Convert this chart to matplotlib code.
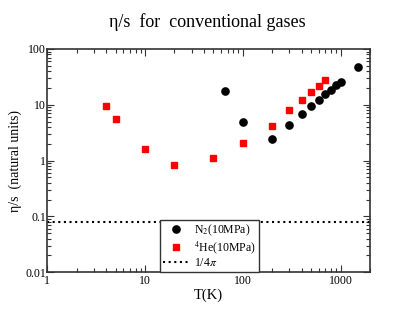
import numpy as np
import matplotlib
matplotlib.use("Agg")
import matplotlib.pyplot as plt
from matplotlib.ticker import LogLocator, FixedLocator, FixedFormatter, NullFormatter

plt.rcParams['font.family'] = ['Liberation Serif', 'DejaVu Serif']
plt.rcParams['mathtext.fontset'] = 'stix'

# Data
he_T = [4, 5, 10, 20, 50, 100, 200, 300, 400, 500, 600, 700]
he_eta_s = [9.4, 5.6, 1.6, 0.83, 1.11, 2.1, 4.1, 8.1, 12.0, 16.7, 22.0, 27.5]
n2_T = [65, 100, 200, 300, 400, 500, 600, 700, 800, 900, 1000, 1500]
n2_eta_s = [17.5, 5.0, 2.4, 4.4, 6.8, 9.4, 12.2, 15.4, 18.7, 22.4, 25.6, 47.0]
kss_bound = 1.0 / (4.0 * np.pi)

xticks = [1, 10, 100, 1000]
xticklabels = ["1", "10", "100", "1000"]
yticks = [0.01, 0.1, 1, 10, 100]
yticklabels = ["0.01", "0.1", "1", "10", "100"]

fig = plt.figure(figsize=(4.15, 3.21), dpi=100)
ax = fig.add_axes([0.114, 0.1517, 0.7776, 0.6957])

ax.plot(n2_T, n2_eta_s, 'o', color='black', markersize=5.2, linestyle='none', label=r'N$_2$(10MPa)')
ax.plot(he_T, he_eta_s, 's', color='#ff0000', markersize=4.4, linestyle='none', label=r'$^4$He(10MPa)')
ax.axhline(kss_bound, color='black', linestyle=(0, (1, 1.7)), linewidth=1.5, label=r'1/4$\pi$')

ax.set_xscale('log')
ax.set_yscale('log')
ax.set_xlim(1, 2000)
ax.set_ylim(0.01, 100)

ax.xaxis.set_major_locator(FixedLocator(xticks))
ax.xaxis.set_major_formatter(FixedFormatter(xticklabels))
ax.yaxis.set_major_locator(FixedLocator(yticks))
ax.yaxis.set_major_formatter(FixedFormatter(yticklabels))
ax.xaxis.set_minor_locator(LogLocator(base=10, subs=np.arange(2, 10)))
ax.yaxis.set_minor_locator(LogLocator(base=10, subs=np.arange(2, 10)))
ax.xaxis.set_minor_formatter(NullFormatter())
ax.yaxis.set_minor_formatter(NullFormatter())

ax.tick_params(which='both', direction='in', top=True, right=True, labelsize=8.5, width=0.8, color='#333333')
ax.tick_params(which='major', length=5)
ax.tick_params(which='minor', length=3)
ax.tick_params(axis='x', pad=2)
ax.tick_params(axis='y', pad=1)
for s in ax.spines.values():
    s.set_linewidth(1.2)
    s.set_color('#333333')

ax.set_xlabel('T(K)', fontsize=10.5, labelpad=1)
ax.set_ylabel(u'\u03b7/s  (natural units)', fontsize=10, labelpad=2)
fig.suptitle(u'\u03b7/s  for  conventional gases', fontsize=13, y=0.96)

leg = ax.legend(loc='lower left', bbox_to_anchor=(0.349, 0.0), borderaxespad=0, fontsize=8.5,
                fancybox=False, edgecolor='#333333', framealpha=1, handlelength=2.3,
                borderpad=0.25, labelspacing=0.1, handletextpad=0.35)
leg.get_frame().set_linewidth(1.0)

fig.savefig('out.png', dpi=100)
